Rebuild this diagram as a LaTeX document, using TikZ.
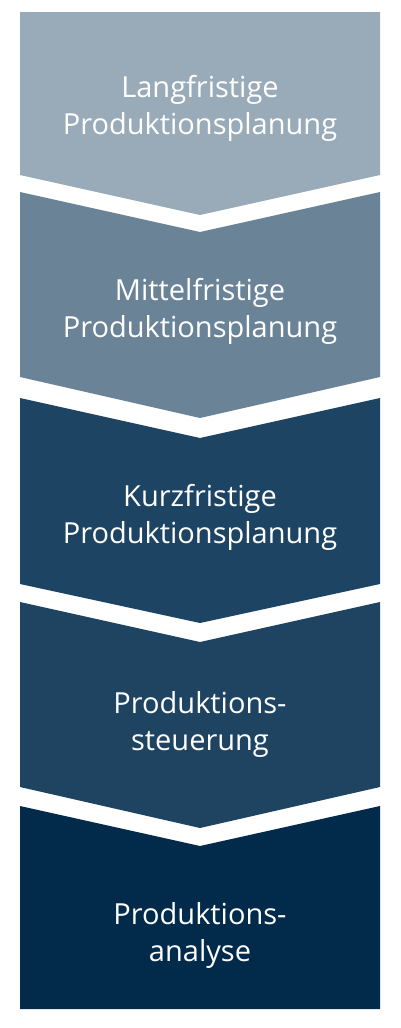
\documentclass[tikz,border=0pt]{standalone}
\usepackage{fontspec}
\setmainfont{Open Sans}
\definecolor{stufeA}{HTML}{99AAB9}
\definecolor{stufeB}{HTML}{6A8397}
\definecolor{stufeC}{HTML}{1E4463}
\definecolor{stufeD}{HTML}{1E4462}
\definecolor{stufeE}{HTML}{022B4B}
\begin{document}
\begin{tikzpicture}[x=1pt,y=-1pt,lbl/.style ={text=white, align=center, font=\fontsize{29}{37}\selectfont}]
\useasboundingbox (0,0) rectangle (400,1028);
\fill[stufeA] (20,12) -- (380,12) -- (380,175) -- (200,215) -- (20,175) -- cycle;
\fill[stufeB] (20,192) -- (200,232) -- (380,192) -- (380,377) -- (200,418) -- (20,377) -- cycle;
\fill[stufeC] (20,398) -- (200,438) -- (380,398) -- (380,584) -- (200,623) -- (20,584) -- cycle;
\fill[stufeD] (20,602) -- (200,642) -- (380,602) -- (380,787) -- (200,828) -- (20,787) -- cycle;
\fill[stufeE] (20,806) -- (200,846) -- (380,806) -- (380,1009) -- (20,1009) -- cycle;
\draw (200,108) node[lbl] (A) {Langfristige\\Produktionsplanung};
\draw (200,311) node[lbl] (B) {Mittelfristige\\Produktionsplanung};
\draw (200,517) node[lbl] (C) {Kurzfristige\\Produktionsplanung};
\draw (200,724) node[lbl] (D) {Produktions-\\steuerung};
\draw (200,935) node[lbl] (E) {Produktions-\\analyse};
\end{tikzpicture}
\end{document}
